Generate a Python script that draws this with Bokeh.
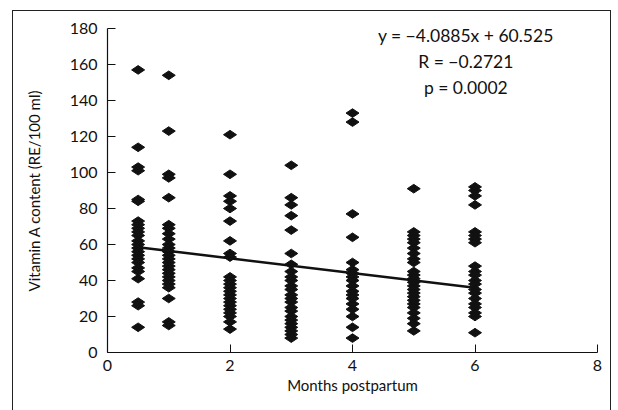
import math
from bokeh.plotting import figure
from bokeh.models import FixedTicker, ColumnDataSource, InlineStyleSheet
from bokeh.core.properties import value
from bokeh.embed import file_html
from bokeh.resources import INLINE

# ---- data ----
months = [0.5, 1, 2, 3, 4, 5, 6]
vals_m05 = [157, 114, 103, 101, 85, 84, 73, 71, 69, 67, 65, 62, 60, 58, 56, 54, 52, 50, 47, 45, 41, 28, 26, 14]
vals_m1 = [154, 123, 99, 97, 86, 71, 69, 66, 63, 60, 58, 56, 54, 52, 50, 48, 46, 44, 42, 40, 38, 36, 30, 17, 15]
vals_m2 = [121, 99, 87, 84, 80, 73, 62, 55, 53, 42, 40, 38, 36, 34, 32, 30, 28, 26, 24, 22, 20, 17, 13]
vals_m3 = [104, 86, 82, 76, 68, 55, 49, 45, 42, 40, 37, 35, 32, 30, 28, 25, 23, 20, 18, 16, 14, 12, 10, 8]
vals_m4 = [133, 128, 77, 64, 50, 46, 44, 42, 40, 37, 34, 32, 30, 27, 24, 20, 14, 8]
vals_m5 = [91, 67, 65, 63, 61, 58, 55, 52, 50, 45, 43, 41, 39, 37, 35, 33, 31, 29, 27, 25, 22, 19, 16, 12]
vals_m6 = [92, 90, 87, 82, 67, 65, 63, 61, 48, 45, 43, 40, 38, 35, 33, 30, 27, 25, 22, 20, 11]
groups = [vals_m05, vals_m1, vals_m2, vals_m3, vals_m4, vals_m5, vals_m6]

slope = -4.0885
intercept = 60.525
fit_x = [0.5, 6]
x_ticks = [0, 2, 4, 6, 8]
y_ticks = [0, 20, 40, 60, 80, 100, 120, 140, 160, 180]
stats_lines = ["y = \u22124.0885x + 60.525", "R = \u22120.2721", "p = 0.0002"]

xs, ys = [], []
for m, g in zip(months, groups):
    xs.extend([m] * len(g))
    ys.extend(g)
src = ColumnDataSource(dict(x=xs, y=ys))

FONT = "Lato"
W, H = 618, 410

frame_css = InlineStyleSheet(css="""
:host { position: relative; }
:host::after {
  content: "";
  position: absolute;
  left: 12px; top: 10px;
  width: 599px; height: 430px;
  border: 1px solid #222222;
  pointer-events: none;
  box-sizing: border-box;
}
""")

p = figure(width=W, height=H, x_range=(0, 8), y_range=(0, 180),
           output_backend="svg", toolbar_location=None,
           min_border_left=107, min_border_right=21,
           min_border_top=28, min_border_bottom=58,
           stylesheets=[frame_css])
p.grid.visible = False
p.outline_line_color = None
p.background_fill_color = "white"
p.border_fill_color = "white"

for ax in (p.xaxis[0], p.yaxis[0]):
    ax.axis_line_color = "#111111"
    ax.axis_line_width = 1.2
    ax.major_tick_line_color = "#111111"
    ax.major_tick_in = 8
    ax.major_tick_out = 0
    ax.minor_tick_line_color = None
    ax.major_label_text_font = FONT
    ax.major_label_text_font_size = "16px"
    ax.major_label_text_color = "#111111"
    ax.axis_label_text_font = FONT
    ax.axis_label_text_font_size = "15px"
    ax.axis_label_text_font_style = "normal"
    ax.axis_label_text_color = "#111111"

p.xaxis.ticker = FixedTicker(ticks=x_ticks)
p.yaxis.ticker = FixedTicker(ticks=y_ticks)
p.xaxis.axis_label = "Months postpartum"
p.yaxis.axis_label = "Vitamin A content (RE/100 ml)"
p.xaxis.major_label_standoff = 7
p.yaxis.major_label_standoff = 10
p.xaxis.axis_label_standoff = 2
p.yaxis.axis_label_standoff = 24

p.scatter("x", "y", source=src, marker="diamond", size=13, angle=math.pi / 2,
          fill_color="#111111", line_color="#111111")

p.line(fit_x, [slope * v + intercept for v in fit_x], line_color="#111111", line_width=2.5)

# stats text (positioned in data space near upper right)
tx = 5.85
for i, t in enumerate(stats_lines):
    p.text(x=[tx], y=[176 - i * 14.5], text=[t], text_align="center", text_baseline="middle",
           text_font=value(FONT), text_font_size="17.5px", text_color="#111111")

open("out.html", "w").write(file_html(p, INLINE))
